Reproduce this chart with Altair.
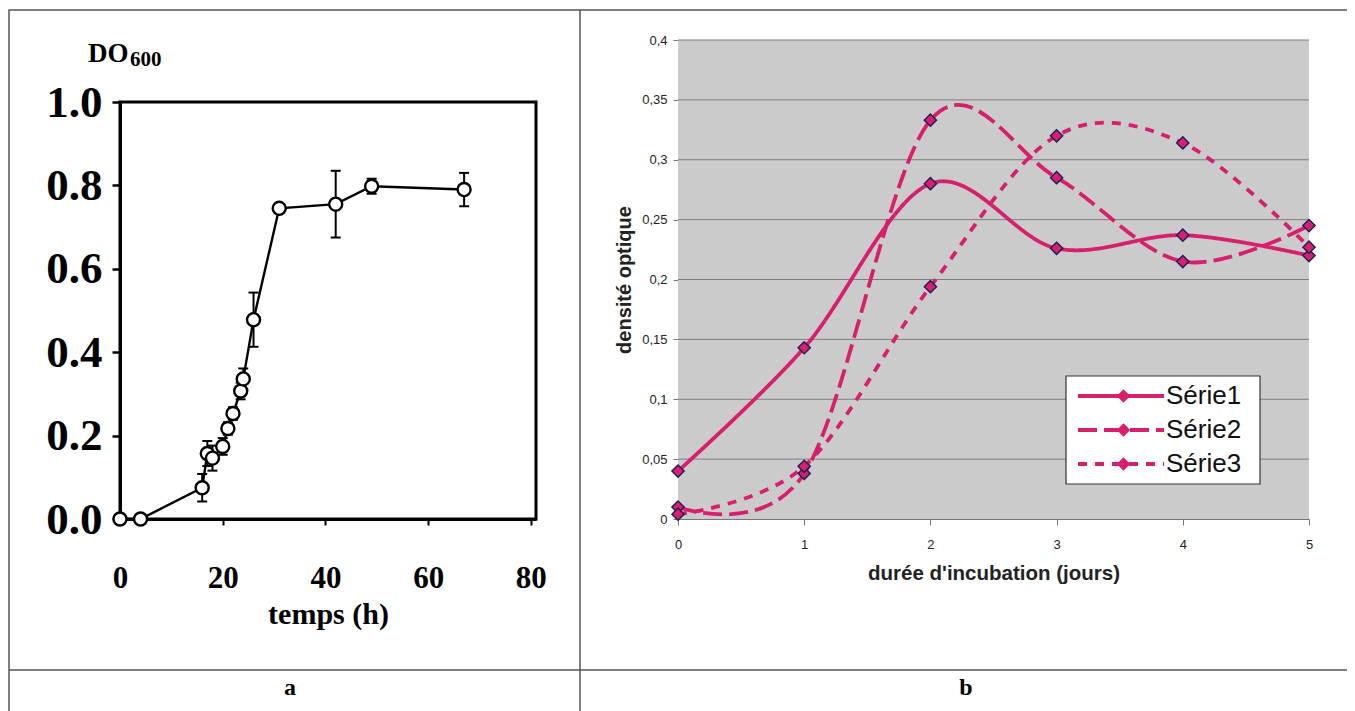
import altair as alt
import pandas as pd

# ---------------- panel a : growth curve ----------------
temps_h = [0, 4, 16, 17, 18, 20, 21, 22, 23.5, 24, 26, 31, 42, 49, 67]
do600 = [0.0, 0.0, 0.075, 0.157, 0.146, 0.174, 0.217, 0.253, 0.307, 0.336, 0.478, 0.745, 0.755, 0.798, 0.790]
do600_err = [0.0, 0.0, 0.033, 0.03, 0.03, 0.02, 0.015, 0.015, 0.02, 0.025, 0.065, 0.0, 0.08, 0.018, 0.04]
a_x_ticks = [0, 20, 40, 60, 80]
a_y_ticks = [0.0, 0.2, 0.4, 0.6, 0.8, 1.0]
a_x_domain = [0, 81]
a_y_domain = [0, 1]

# ---------------- panel b : optical density ----------------
jours = [0, 1, 2, 3, 4, 5]
serie_names = ["Série1", "Série2", "Série3"]
serie1 = [0.040, 0.143, 0.280, 0.226, 0.237, 0.220]
serie2 = [0.010, 0.038, 0.333, 0.285, 0.215, 0.245]
serie3 = [0.004, 0.044, 0.194, 0.320, 0.314, 0.227]
b_y_ticks = [0, 0.05, 0.1, 0.15, 0.2, 0.25, 0.3, 0.35, 0.4]
b_x_domain = [0, 5]
b_y_domain = [0, 0.4]

# ---------------- tables ----------------
df_a = pd.DataFrame({"t": temps_h, "od": do600, "err": do600_err})
df_a["lo"] = df_a["od"] - df_a["err"]
df_a["hi"] = df_a["od"] + df_a["err"]
df_err = df_a[df_a["err"] > 0]

rows = []
for name, vals in zip(serie_names, [serie1, serie2, serie3]):
    for j, v in zip(jours, vals):
        rows.append({"jour": j, "val": v, "serie": name, "serie_b": name})
df_b = pd.DataFrame(rows)
df_grid = pd.DataFrame({"g": b_y_ticks[1:]})
one = pd.DataFrame({"k": [0]})

# ---------------- styles ----------------
W, H = 1339, 703
SERIF = "Liberation Serif"
SANS = "Liberation Sans"
PINK = "#d6206c"
NAVY = "#1c1c5a"

# ---------------- panel a ----------------
xa_scale = alt.Scale(domain=a_x_domain, range=[112, 528], nice=False, zero=False)
ya_scale = alt.Scale(domain=a_y_domain, range=[511, 94], nice=False)

xa_axis = alt.Axis(orient="bottom", offset=-192, values=a_x_ticks, format="d",
                   labelFont=SERIF, labelFontWeight="bold", labelFontSize=31, labelColor="black",
                   labelPadding=38, labelFlush=False, labelOverlap=False,
                   tickSize=6, tickWidth=2, tickColor="black",
                   domainColor="black", domainWidth=3, grid=False,
                   title="temps (h)", titleFont=SERIF, titleFontWeight="bold", titleFontSize=30,
                   titleColor="black", titlePadding=6)
ya_axis = alt.Axis(orient="left", offset=-112, values=a_y_ticks, format=".1f",
                   labelFont=SERIF, labelFontWeight="bold", labelFontSize=45, labelColor="black",
                   labelPadding=10, labelOverlap=False, labelFlush=False,
                   tickSize=8, tickWidth=2.5, tickColor="black",
                   domainColor="black", domainWidth=3, grid=False, title=None)

frame_a = alt.Chart(one).mark_rect(fillOpacity=0, stroke="black", strokeWidth=3).encode(
    x=alt.X(datum=a_x_domain[0], type="quantitative", scale=xa_scale, axis=xa_axis),
    x2=alt.X2(datum=a_x_domain[1]),
    y=alt.Y(datum=a_y_domain[0], type="quantitative", scale=ya_scale, axis=ya_axis),
    y2=alt.Y2(datum=a_y_domain[1]),
)
line_a = alt.Chart(df_a).mark_line(color="black", strokeWidth=2.4).encode(
    x=alt.X("t:Q", scale=xa_scale),
    y=alt.Y("od:Q", scale=ya_scale),
)
err_a = alt.Chart(df_err).mark_rule(color="black", strokeWidth=2).encode(
    x=alt.X("t:Q", scale=xa_scale),
    y=alt.Y("lo:Q", scale=ya_scale),
    y2="hi:Q",
)
cap_lo = alt.Chart(df_err).mark_tick(color="black", orient="horizontal", size=10, thickness=2, opacity=1).encode(
    x=alt.X("t:Q", scale=xa_scale),
    y=alt.Y("lo:Q", scale=ya_scale),
)
cap_hi = alt.Chart(df_err).mark_tick(color="black", orient="horizontal", size=10, thickness=2, opacity=1).encode(
    x=alt.X("t:Q", scale=xa_scale),
    y=alt.Y("hi:Q", scale=ya_scale),
)
pts_a = alt.Chart(df_a).mark_point(shape="circle", size=170, filled=True, fill="white", stroke="black",
                                   strokeWidth=2.4, opacity=1).encode(
    x=alt.X("t:Q", scale=xa_scale),
    y=alt.Y("od:Q", scale=ya_scale),
)
panel_a = alt.layer(frame_a, line_a, err_a, cap_lo, cap_hi, pts_a)

# ---------------- panel b ----------------
xb_scale = alt.Scale(domain=b_x_domain, range=[670, 1301], nice=False, zero=False)
yb_scale = alt.Scale(domain=b_y_domain, range=[511, 32], nice=False)

xb_axis = alt.Axis(orient="bottom", offset=-192, values=jours, format="d",
                   labelFont=SANS, labelFontSize=13, labelColor="#222", labelPadding=13,
                   labelFlush=False, labelOverlap=False,
                   tickSize=6, tickColor="#777", domainColor="#777", domainWidth=1, grid=False,
                   title="durée d'incubation (jours)", titleFont=SANS, titleFontWeight="bold",
                   titleFontSize=20.5, titleColor="#222", titlePadding=12)
yb_axis = alt.Axis(orient="left", offset=-670, values=b_y_ticks,
                   labelExpr="replace(format(datum.value, '~g'), '.', ',')",
                   labelFont=SANS, labelFontSize=13, labelColor="#222", labelPadding=6,
                   labelFlush=False, labelOverlap=False,
                   tickSize=5, tickColor="#777", domainColor="#777", domainWidth=1, grid=False,
                   title="densité optique", titleFont=SANS, titleFontWeight="bold",
                   titleFontSize=20, titleColor="#222", titlePadding=7)

bg_b = alt.Chart(one).mark_rect(color="#cbcbcb").encode(
    x=alt.X(datum=b_x_domain[0], type="quantitative", scale=xb_scale, axis=xb_axis),
    x2=alt.X2(datum=b_x_domain[1]),
    y=alt.Y(datum=b_y_domain[0], type="quantitative", scale=yb_scale, axis=yb_axis),
    y2=alt.Y2(datum=b_y_domain[1]),
)
grid_b = alt.Chart(df_grid).mark_rule(color="#7d7d7d", strokeWidth=1).encode(
    y=alt.Y("g:Q", scale=yb_scale),
    x=alt.X(datum=b_x_domain[0], type="quantitative", scale=xb_scale),
    x2=alt.X2(datum=b_x_domain[1]),
)

LEG_X, LEG_Y, LEG_PAD = 1058, 368, 7
LINE_SYM = 86
DIA_SIZE = 150
ROW_H = 26

line_b = alt.Chart(df_b).mark_line(interpolate="cardinal", tension=0, color=PINK, strokeWidth=3.8).encode(
    x=alt.X("jour:Q", scale=xb_scale),
    y=alt.Y("val:Q", scale=yb_scale),
    strokeDash=alt.StrokeDash(
        "serie:N",
        scale=alt.Scale(domain=serie_names, range=[[1, 0], [19, 7], [9, 8]]),
        legend=alt.Legend(orient="none", legendX=LEG_X - 2, legendY=LEG_Y, title=None,
                          padding=LEG_PAD, symbolOffset=5, symbolType="stroke",
                          symbolSize=LINE_SYM ** 2, symbolStrokeWidth=3.8, clipHeight=ROW_H,
                          symbolStrokeColor=PINK, labelFont=SANS, labelFontSize=26,
                          labelColor="#111", labelOffset=0, rowPadding=8),
    ),
)
# diamonds of the legend: a second legend (data-driven domain, so it is not merged)
pts_b = alt.Chart(df_b).mark_point(filled=True, fill=PINK, stroke=NAVY, strokeWidth=1.4,
                                   size=DIA_SIZE, opacity=1).encode(
    x=alt.X("jour:Q", scale=xb_scale),
    y=alt.Y("val:Q", scale=yb_scale),
    shape=alt.Shape(
        "serie_b:N",
        scale=alt.Scale(range=["diamond", "diamond", "diamond"]),
        legend=alt.Legend(orient="none", legendX=LEG_X + 38, legendY=LEG_Y, title=None,
                          padding=LEG_PAD, symbolOffset=5, clipHeight=ROW_H,
                          symbolSize=180, symbolFillColor=PINK, symbolStrokeColor=NAVY,
                          symbolStrokeWidth=1.4, labelExpr="''", labelFontSize=1,
                          labelOffset=0, rowPadding=8),
    ),
)
legend_box = alt.Chart(one).mark_rect(fill="white", stroke="#333", strokeWidth=1.2).encode(
    x=alt.value(LEG_X), x2=alt.value(LEG_X + 194),
    y=alt.value(LEG_Y), y2=alt.value(LEG_Y + 108),
)
panel_b = alt.layer(bg_b, grid_b, line_b, pts_b, legend_box)

# ---------------- table frame & captions ----------------
BORDER = "#555555"
outer = alt.Chart(one).mark_rect(fillOpacity=0, stroke=BORDER, strokeWidth=1.5).encode(
    x=alt.value(1), x2=alt.value(1340), y=alt.value(2), y2=alt.value(730))
vdiv = alt.Chart(one).mark_rule(color=BORDER, strokeWidth=1.5).encode(
    x=alt.value(572), y=alt.value(2), y2=alt.value(730))
hdiv = alt.Chart(one).mark_rule(color=BORDER, strokeWidth=1.5).encode(
    x=alt.value(1), x2=alt.value(1340), y=alt.value(662))
cap_a = alt.Chart(one).mark_text(font=SERIF, fontWeight="bold", fontSize=24, color="black",
                                 baseline="middle").encode(
    x=alt.value(282), y=alt.value(680), text=alt.value("a"))
cap_b = alt.Chart(one).mark_text(font=SERIF, fontWeight="bold", fontSize=24, color="black",
                                 baseline="middle").encode(
    x=alt.value(958), y=alt.value(680), text=alt.value("b"))
do_txt = alt.Chart(one).mark_text(font=SERIF, fontWeight="bold", fontSize=27, color="black",
                                  align="left", baseline="alphabetic").encode(
    x=alt.value(80), y=alt.value(54), text=alt.value("DO"))
do_sub = alt.Chart(one).mark_text(font=SERIF, fontWeight="bold", fontSize=21, color="black",
                                  align="left", baseline="alphabetic").encode(
    x=alt.value(122), y=alt.value(58), text=alt.value("600"))
deco = alt.layer(outer, vdiv, hdiv, cap_a, cap_b, do_txt, do_sub)

chart = alt.layer(panel_a, panel_b, deco).resolve_scale(
    x="independent", y="independent"
).properties(
    width=W, height=H, padding=0, autosize=alt.AutoSizeParams(type="none"),
    background="white",
).configure_view(stroke=None)

chart.save("out.html", embed_options={"renderer": "svg", "actions": False})
